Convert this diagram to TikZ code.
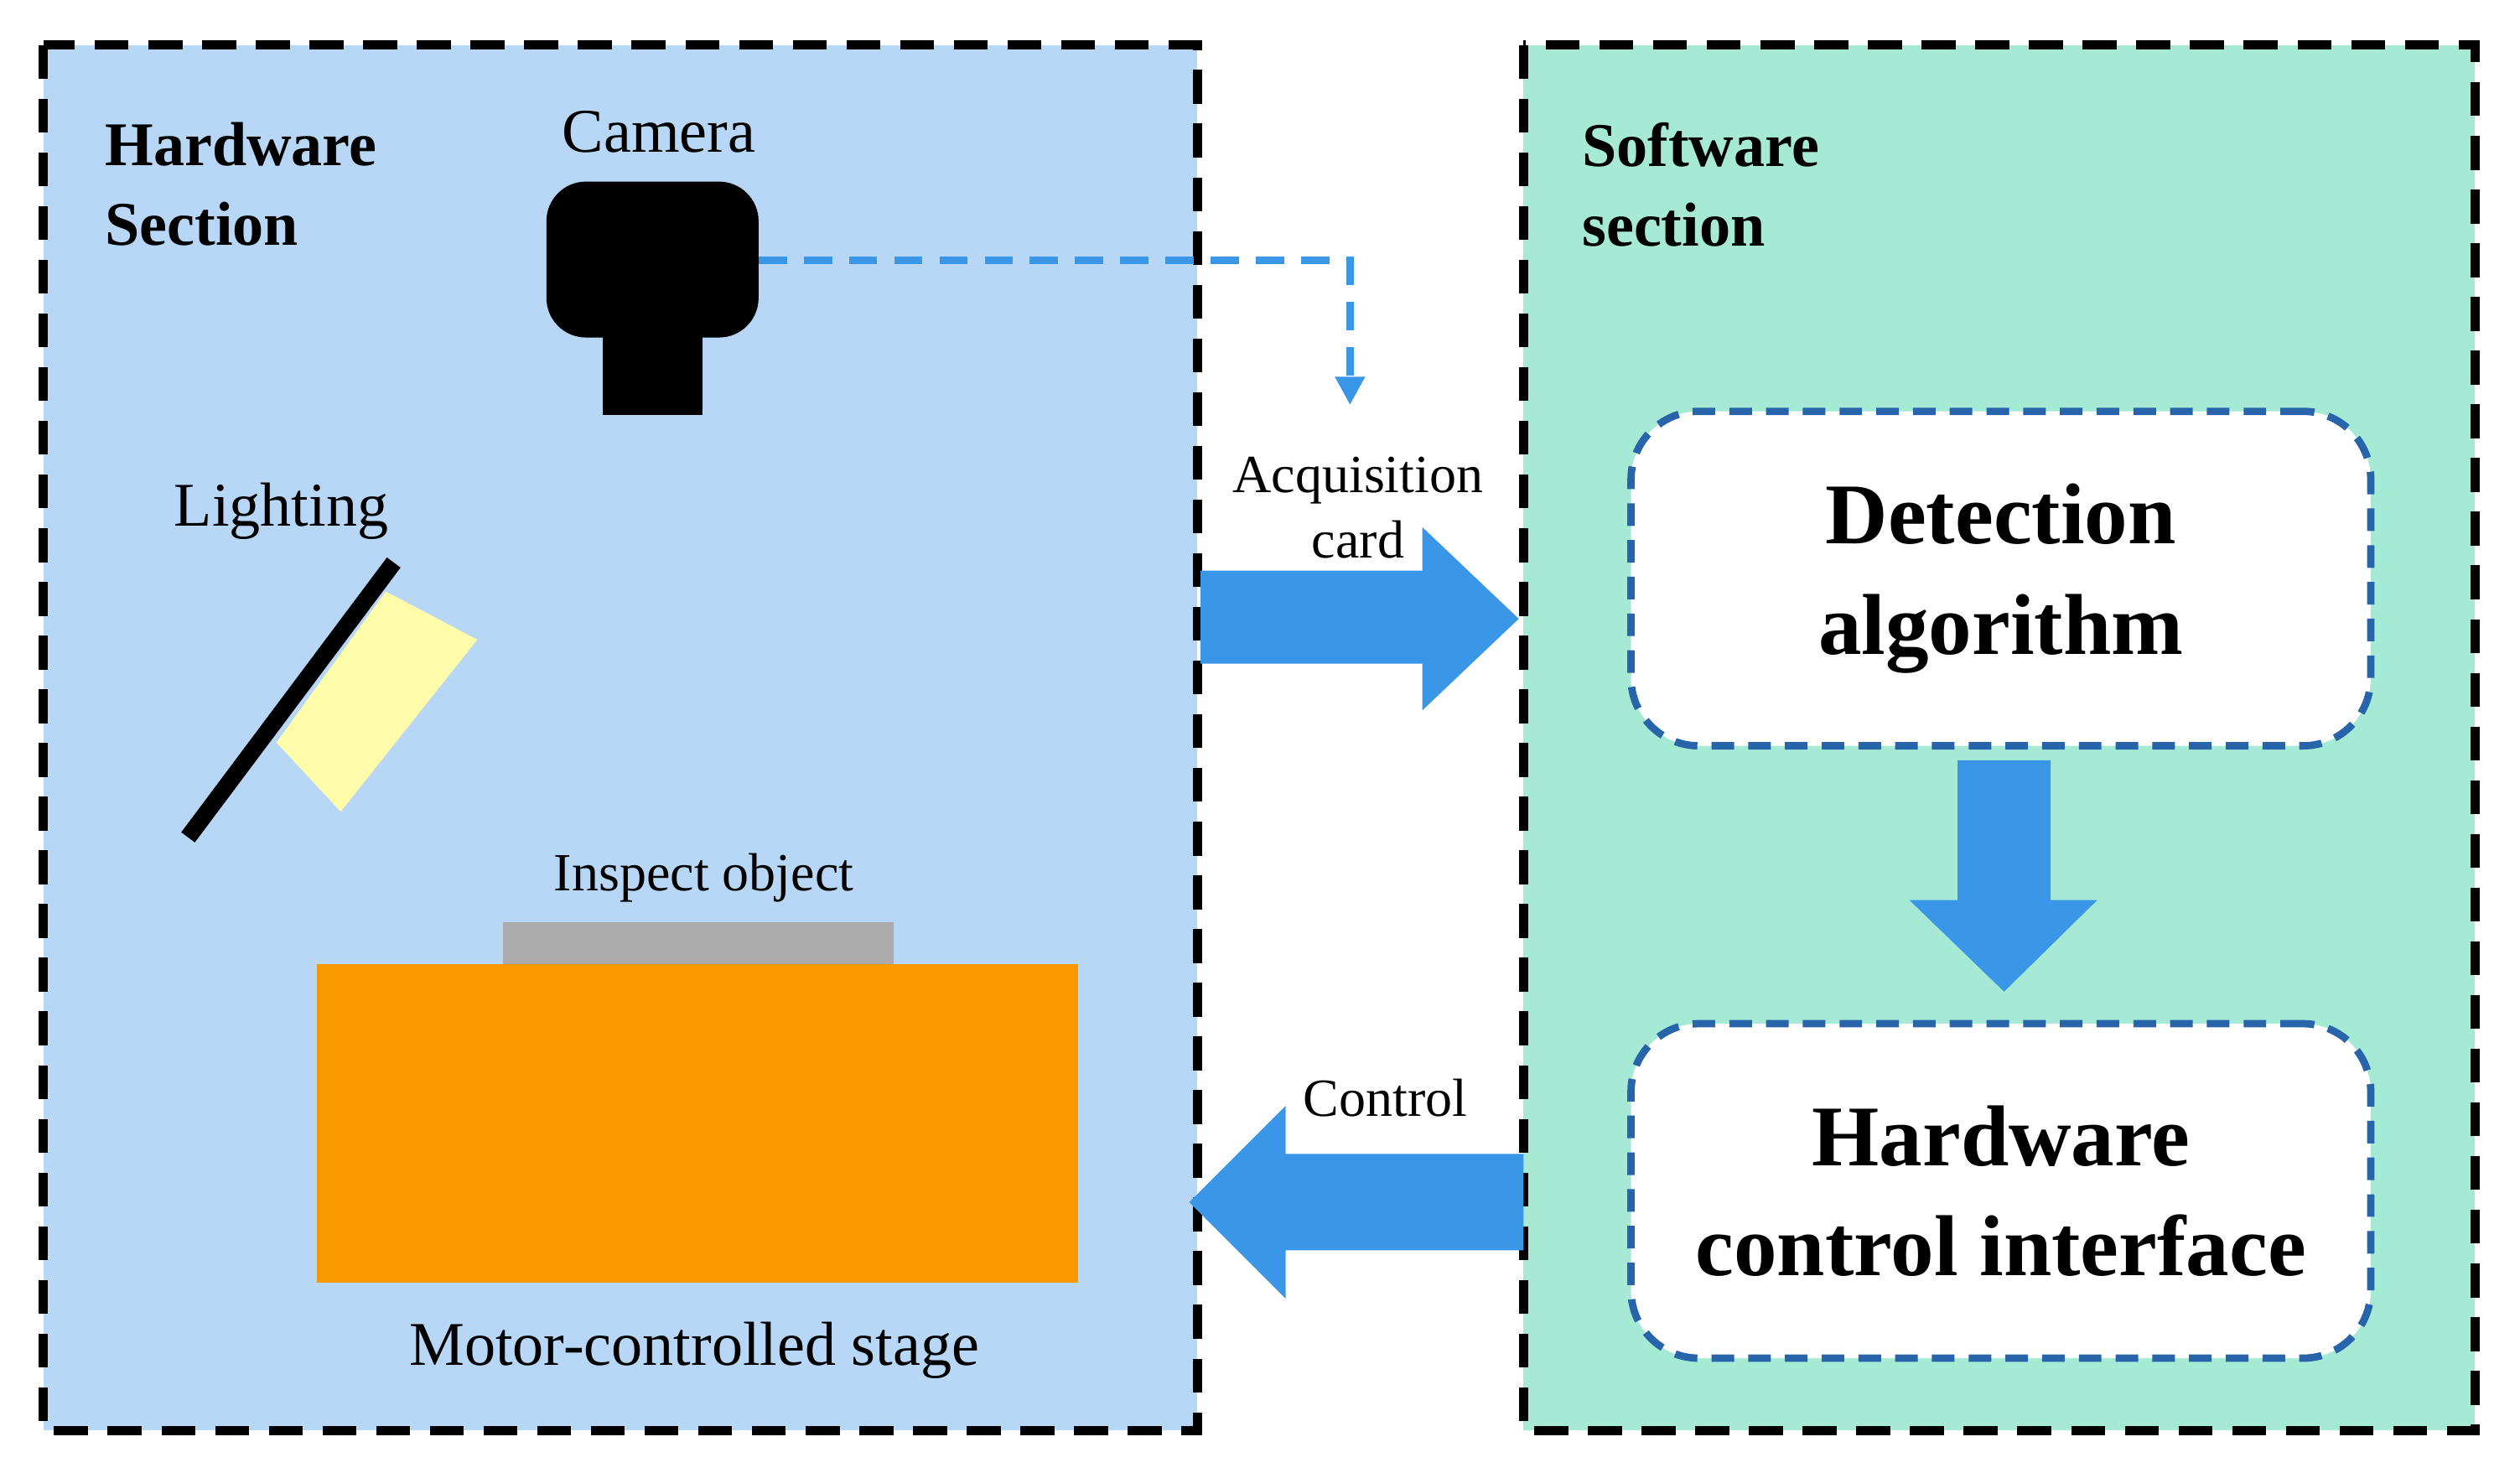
\documentclass[tikz,border=0pt]{standalone}
\usepackage{fontspec}
\setmainfont{Liberation Serif}
\usetikzlibrary{arrows.meta,positioning}
\definecolor{hwblue}{RGB}{184,214,245}
\definecolor{swgreen}{RGB}{166,234,214}
\definecolor{flowblue}{RGB}{58,150,230}
\definecolor{boxblue}{RGB}{40,100,170}
\definecolor{stageorange}{RGB}{250,152,0}
\definecolor{lampyellow}{RGB}{255,252,170}
\tikzset{
    % dashed section frames
    section/.style={draw=black, line width=1.6pt, dash pattern=on 6pt off 3.5pt},
    % rounded software blocks
    block/.style={draw=boxblue, fill=white, line width=1.3pt, rounded corners=12pt,
           dash pattern=on 4pt off 2.5pt, minimum width=4.6cm, minimum height=2.08cm,
           align=center, font=\fontsize{15.3}{19.5}\selectfont\bfseries},
    title/.style={align=left, anchor=north west, font=\fontsize{11}{14}\selectfont\bfseries},
    label/.style={font=\fontsize{11}{13}\selectfont},
    small/.style={font=\fontsize{9.5}{11.5}\selectfont, align=center},
    fatarrow/.style={fill=flowblue, draw=none}
}
\begin{document}
\begin{tikzpicture}[x=0.01cm, y=-0.01cm]
    \useasboundingbox (0,0) rectangle (1568,916);
    % sections
    \draw[section, fill=hwblue] (27,28) rectangle (745,890);
    \draw[section, fill=swgreen] (948,28) rectangle (1540,890);
    \node[title] (hwtitle) at (53,64) {Hardware\\Section};
    \node[title] (swtitle) at (972,64) {Software\\section};

    % camera
    \fill[rounded corners=7pt] (340,113) rectangle (472,210);
    \fill (375,205) rectangle (437,258);
    \coordinate (cam) at (472,162);
    \coordinate (card) at (840,252);
    \node[label] (camlabel) at (410,82) {Camera};
    \draw[flowblue, line width=1.3pt, dash pattern=on 5pt off 3pt, -{Triangle[width=5pt,length=5pt]}]
        (cam) -| (card);

    % lighting
    \node[label] (lightlabel) at (175,318) {Lighting};
    \fill[lampyellow] (240,368) -- (297,398) -- (212,505) -- (172,462) -- cycle;
    \draw[line width=3pt] (117,521) -- (245,350);

    % stage
    \node[small] (objlabel) at (438,546) {Inspect object};
    \fill[black!33] (313,574) rectangle (556,600);
    \fill[stageorange] (197,600) rectangle (671,798);
    \node[label] (stagelabel) at (432,840) {Motor-controlled stage};

    % software blocks
    \node[block] (detect) at (1245,360) {Detection\\algorithm};
    \node[block] (hci) at (1245,741) {Hardware\\control interface};

    % transfer arrows
    \fill[fatarrow] (747,355) -- (885,355) -- (885,328) -- (945,385) -- (885,442) -- (885,413) -- (747,413) -- cycle;
    \node[small] (acqlabel) at (845,316) {Acquisition\\card};
    \fill[fatarrow] (948,718) -- (800,718) -- (800,688) -- (740,748) -- (800,808) -- (800,778) -- (948,778) -- cycle;
    \node[small] (ctrllabel) at (862,683) {Control};
    \fill[fatarrow] (1218,473) -- (1276,473) -- (1276,560) -- (1305,560) -- (1247,617) -- (1188,560) -- (1218,560) -- cycle;
\end{tikzpicture}
\end{document}
